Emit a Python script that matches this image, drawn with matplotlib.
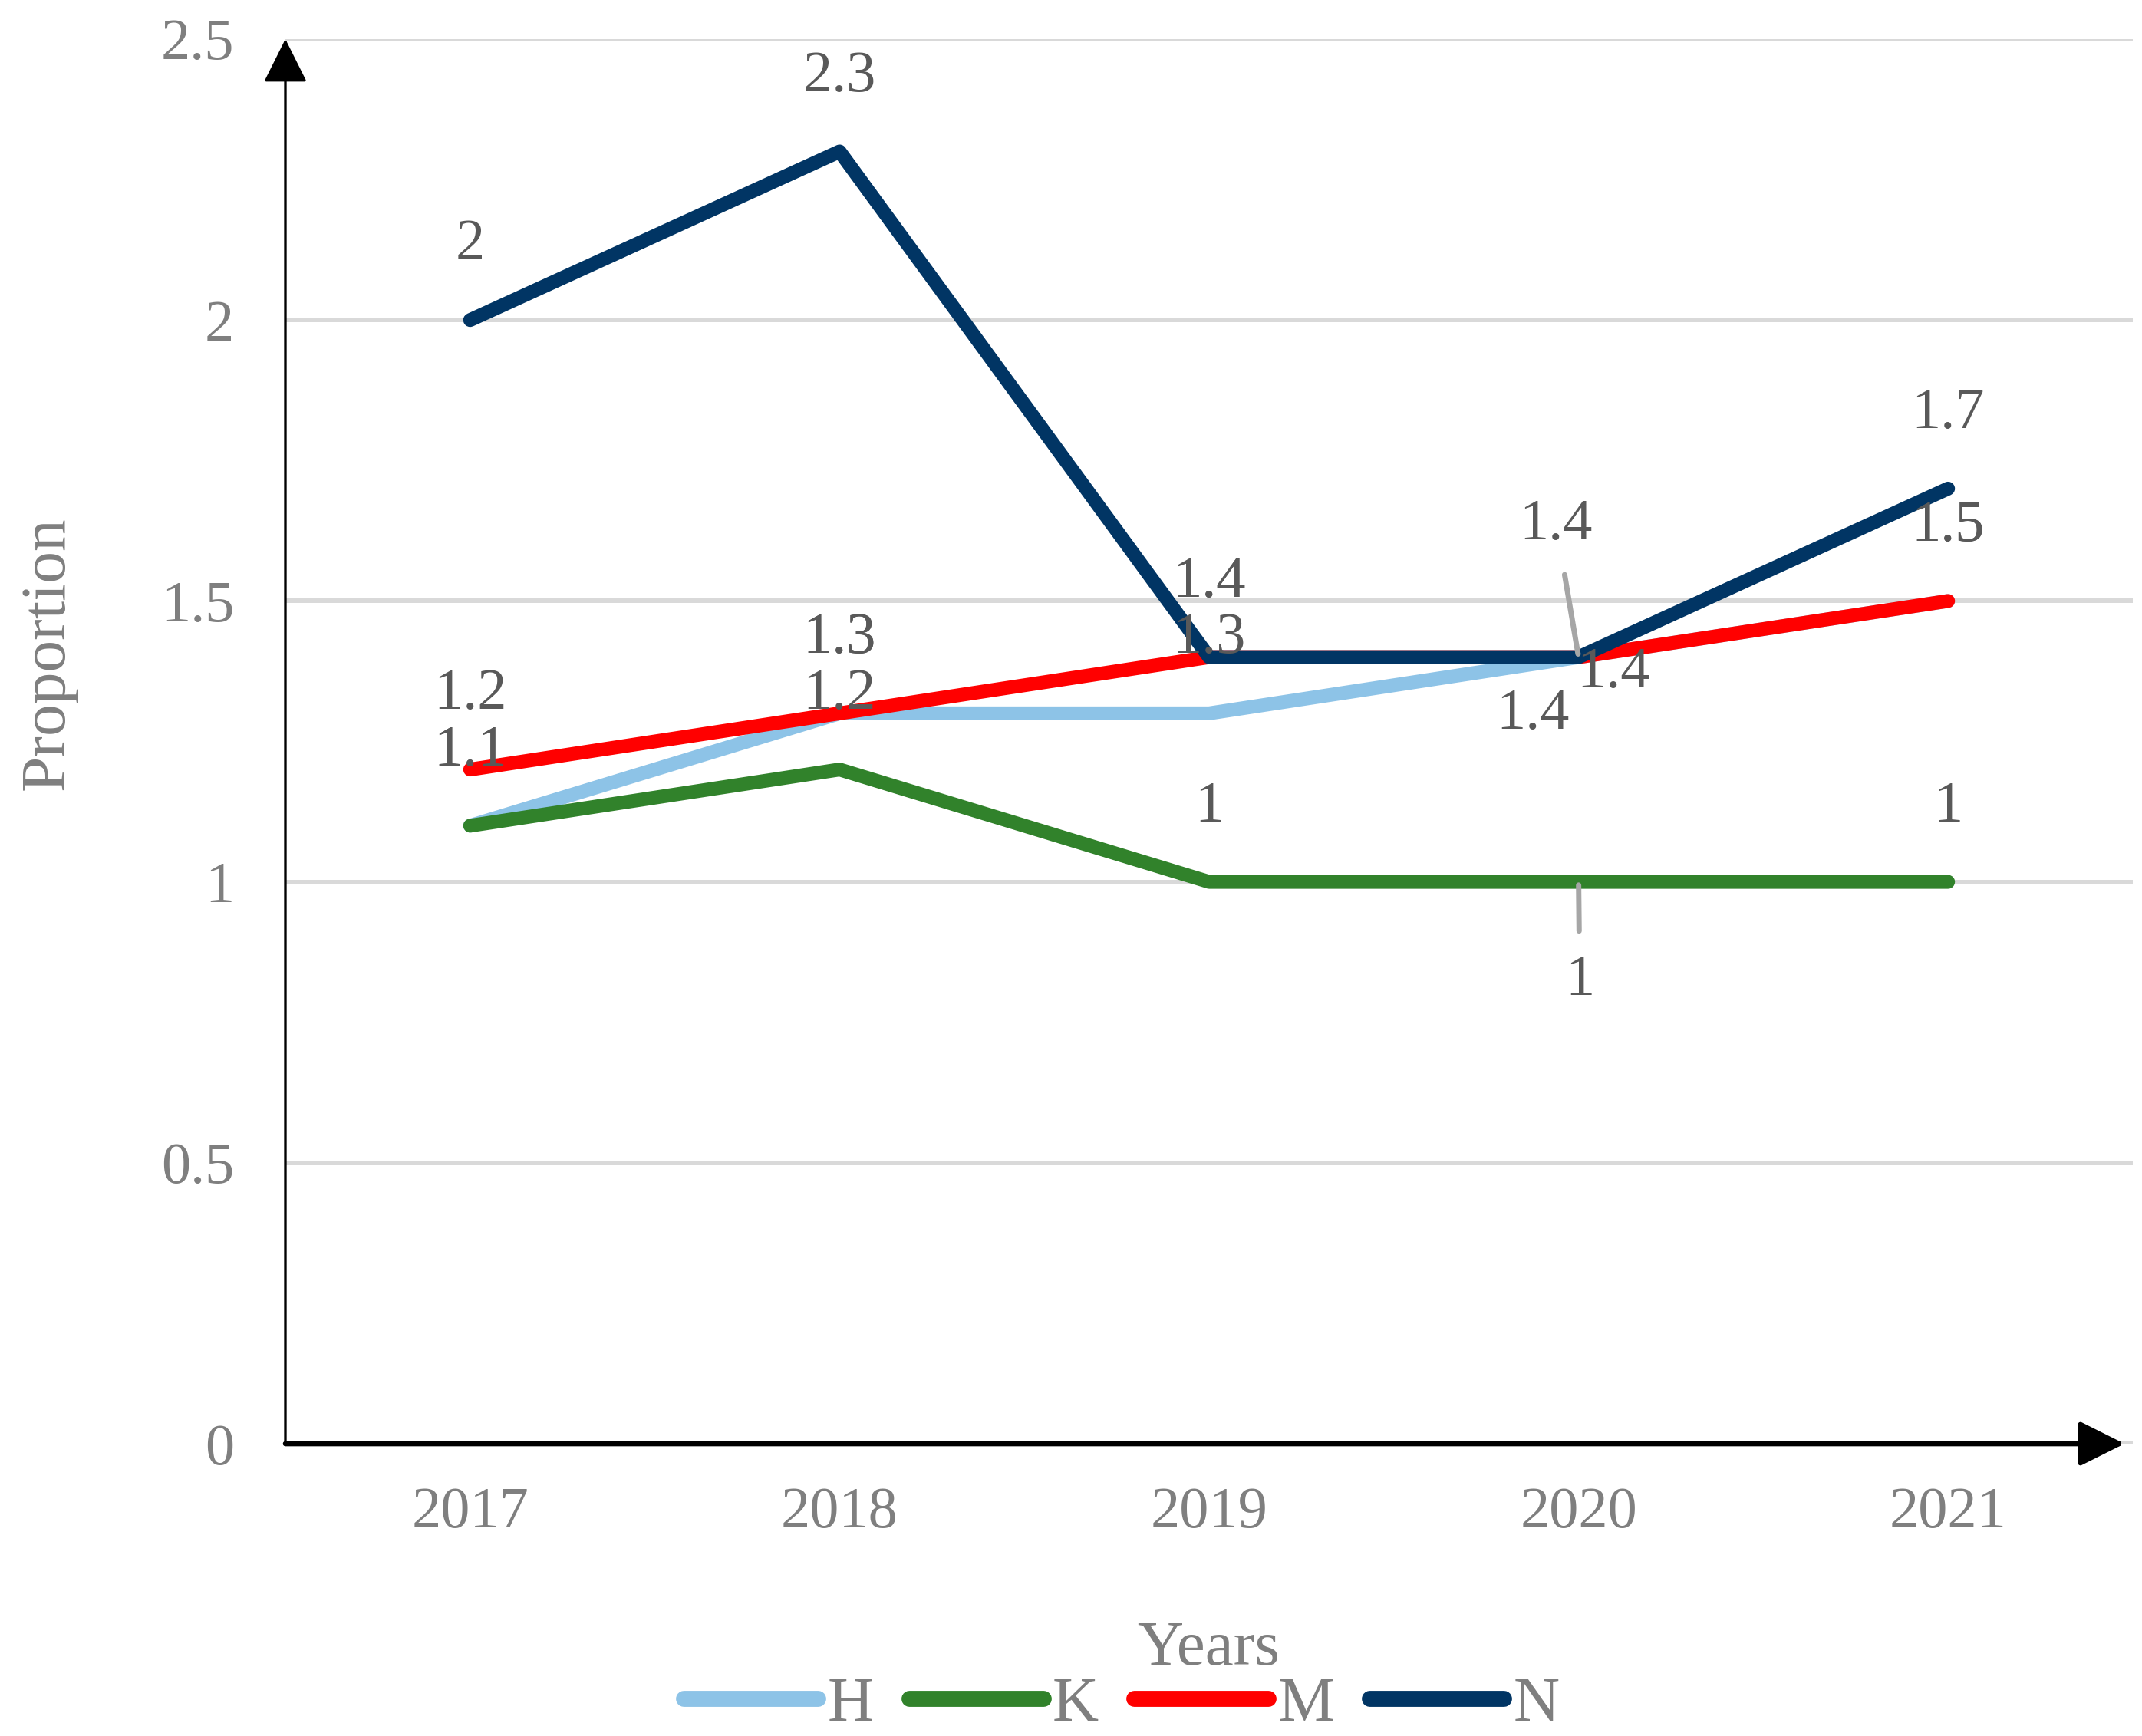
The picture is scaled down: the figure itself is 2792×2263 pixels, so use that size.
import matplotlib
matplotlib.use("Agg")
import matplotlib.pyplot as plt
from matplotlib.lines import Line2D

# dados
anos = ["2017", "2018", "2019", "2020", "2021"]
series = ["H", "K", "M", "N"]
valores_H = [1.1, 1.3, 1.3, 1.4, 1.5]
valores_K = [1.1, 1.2, 1.0, 1.0, 1.0]
valores_M = [1.2, 1.3, 1.4, 1.4, 1.5]
valores_N = [2.0, 2.3, 1.4, 1.4, 1.7]
yticks = [0, 0.5, 1, 1.5, 2, 2.5]

cores = {"H": "#8DC3E7", "K": "#31822B", "M": "#FF0000", "N": "#013564"}
dados = {"H": valores_H, "K": valores_K, "M": valores_M, "N": valores_N}

# deslocamento dos rótulos (pontos); padrão = acima do ponto
padrao = (0, 70)
deslocamentos = {
    ("N", 3): (-21, 124),
    ("M", 3): (33, -15),
    ("H", 3): (-43, -54),
    ("K", 3): (1, -93),
}
com_linha = [("N", 3), ("K", 3)]

plt.rcParams["font.family"] = ["Liberation Serif", "DejaVu Serif"]

fig = plt.figure(figsize=(27.92, 22.63), dpi=100)
ax = fig.add_axes([372 / 2792, 1 - 1882 / 2263, (2780 - 372) / 2792, (1882 - 51) / 2263])

x = list(range(len(anos)))
for s in series:
    ax.plot(x, dados[s], color=cores[s], lw=13, solid_capstyle="round",
            solid_joinstyle="round", zorder=3)

for s in series:
    for i, v in enumerate(dados[s]):
        dx, dy = deslocamentos.get((s, i), padrao)
        props = None
        if (s, i) in com_linha:
            props = dict(arrowstyle="-", color="#A6A6A6", lw=5, shrinkA=20, shrinkB=3)
        ax.annotate(f"{v:g}", xy=(i, v), xytext=(dx, dy), textcoords="offset points",
                    ha="center", va="center", fontsize=55, color="#595959",
                    arrowprops=props, zorder=5)

ax.set_xlim(-0.5, len(anos) - 0.5)
ax.set_ylim(0, 2.5)
ax.set_yticks(yticks)
ax.set_yticklabels([f"{t:g}" for t in yticks])
ax.set_xticks(x)
ax.set_xticklabels(anos)
ax.tick_params(axis="both", length=0, labelsize=55, labelcolor="#7F7F7F")
ax.tick_params(axis="y", pad=48)
ax.tick_params(axis="x", pad=40)
ax.grid(axis="y", color="#D9D9D9", lw=4.3, zorder=0)
ax.set_axisbelow(True)
for sp in ax.spines.values():
    sp.set_visible(False)

# eixos com setas
ax.annotate("", xy=(0, 1.0), xytext=(0, 0), xycoords="axes fraction",
            arrowprops=dict(arrowstyle="-|>,head_length=0.9,head_width=0.45",
                            mutation_scale=40, lw=2.4, color="black",
                            shrinkA=0, shrinkB=0), zorder=6)
ax.annotate("", xy=(0.9955, 0), xytext=(0, 0), xycoords="axes fraction",
            arrowprops=dict(arrowstyle="-|>,head_length=0.9,head_width=0.45",
                            mutation_scale=40, lw=4.8, color="black",
                            shrinkA=0, shrinkB=0), zorder=6)

fig.text(63 / 2792, 1 - 852 / 2263, "Proportion", rotation=90, ha="center",
         va="center", fontsize=60, color="#7F7F7F")
fig.text(1575 / 2792, 1 - 2150 / 2263, "Years", ha="center", va="center",
         fontsize=60, color="#7F7F7F")

handles = [Line2D([], [], color=cores[s], lw=15, solid_capstyle="round") for s in series]
fig.legend(handles, series, loc="center", bbox_to_anchor=(1462 / 2792, 1 - 2223 / 2263),
           ncol=4, frameon=False, fontsize=60, labelcolor="#7F7F7F",
           handlelength=2.1, handletextpad=0.15, columnspacing=0.55)

plt.savefig("out.png", dpi=100)
